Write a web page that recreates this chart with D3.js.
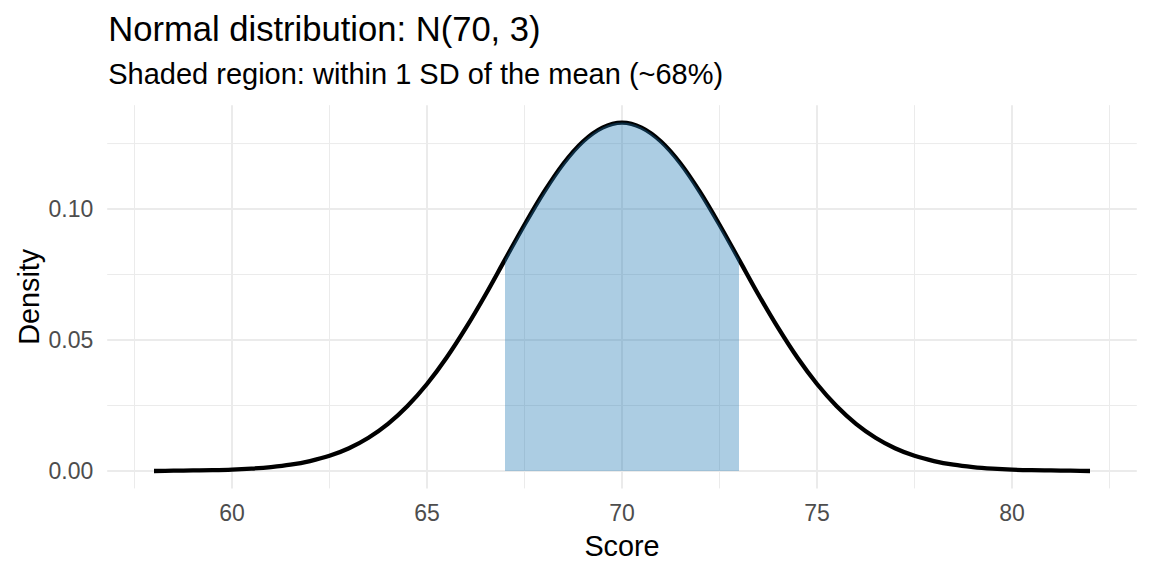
<!DOCTYPE html>
<html>
<head>
<meta charset="utf-8">
<script src="https://cdn.jsdelivr.net/npm/d3@7"></script>
<style>
  body { margin: 0; background: #fff; }
  text { font-family: "Liberation Sans", Arial, sans-serif; }
</style>
</head>
<body>
<div id="chart"></div>
<script>
// values
var scores = [58, 58.5, 59, 59.5, 60, 60.5, 61, 61.5, 62, 62.5, 63, 63.5, 64, 64.5,
  65, 65.5, 66, 66.5, 67, 67.5, 68, 68.5, 69, 69.5, 70, 70.5, 71, 71.5, 72, 72.5,
  73, 73.5, 74, 74.5, 75, 75.5, 76, 76.5, 77, 77.5, 78, 78.5, 79, 79.5, 80, 80.5,
  81, 81.5, 82];
var densities = [0.0000, 0.0001, 0.0002, 0.0003, 0.0005, 0.0009, 0.0015, 0.0024,
  0.0038, 0.0058, 0.0087, 0.0127, 0.0180, 0.0248, 0.0332, 0.0432, 0.0547, 0.0673,
  0.0807, 0.0940, 0.1065, 0.1174, 0.1258, 0.1311, 0.1330, 0.1311, 0.1258, 0.1174,
  0.1065, 0.0940, 0.0807, 0.0673, 0.0547, 0.0432, 0.0332, 0.0248, 0.0180, 0.0127,
  0.0087, 0.0058, 0.0038, 0.0024, 0.0015, 0.0009, 0.0005, 0.0003, 0.0002, 0.0001,
  0.0000];
var shadeRange = [67, 73];
var xTicks = [60, 65, 70, 75, 80];
var xMinor = [57.5, 62.5, 67.5, 72.5, 77.5, 82.5];
var yTicks = [0, 0.05, 0.10];
var yMinor = [0.025, 0.075, 0.125];
var titleText = "Normal distribution: N(70, 3)";
var subtitleText = "Shaded region: within 1 SD of the mean (~68%)";

var width = 1152, height = 576;
var margin = {top: 105.2, right: 15.2, bottom: 87.6, left: 107.2};
var pw = width - margin.left - margin.right,
  ph = height - margin.top - margin.bottom;

var data = scores.map(function (s, i) {
  return {x: s, y: densities[i]};
});

var xpad = (d3.max(scores) - d3.min(scores)) * 0.05;
var ypad = d3.max(densities) * 0.05;

var x = d3.scaleLinear()
  .domain([d3.min(scores) - xpad, d3.max(scores) + xpad])
  .range([0, pw]);
var y = d3.scaleLinear()
  .domain([0 - ypad, d3.max(densities) + ypad])
  .range([ph, 0]);

var svg = d3.select('#chart')
  .append('svg')
  .attr('width', width)
  .attr('height', height);

var g = svg.append('g')
  .attr('transform', 'translate(' + margin.left + ',' + margin.top + ')');

// grid
g.selectAll('.xminor').data(xMinor).enter().append('line')
  .attr('x1', function (d) { return x(d); }).attr('x2', function (d) { return x(d); })
  .attr('y1', 0).attr('y2', ph)
  .attr('stroke', '#ebebeb').attr('stroke-width', 1);
g.selectAll('.yminor').data(yMinor).enter().append('line')
  .attr('y1', function (d) { return y(d); }).attr('y2', function (d) { return y(d); })
  .attr('x1', 0).attr('x2', pw)
  .attr('stroke', '#ebebeb').attr('stroke-width', 1);
g.selectAll('.xmajor').data(xTicks).enter().append('line')
  .attr('x1', function (d) { return x(d); }).attr('x2', function (d) { return x(d); })
  .attr('y1', 0).attr('y2', ph)
  .attr('stroke', '#ebebeb').attr('stroke-width', 2);
g.selectAll('.ymajor').data(yTicks).enter().append('line')
  .attr('y1', function (d) { return y(d); }).attr('y2', function (d) { return y(d); })
  .attr('x1', 0).attr('x2', pw)
  .attr('stroke', '#ebebeb').attr('stroke-width', 2);

// density curve
var line = d3.line()
  .x(function (d) { return x(d.x); })
  .y(function (d) { return y(d.y); })
  .curve(d3.curveMonotoneX);

g.append('path')
  .datum(data)
  .attr('d', line)
  .attr('fill', 'none')
  .attr('stroke', '#000')
  .attr('stroke-width', 4.3)
  .attr('stroke-linejoin', 'round');

// shaded region, drawn on top like the reference
var area = d3.area()
  .x(function (d) { return x(d.x); })
  .y0(y(0))
  .y1(function (d) { return y(d.y); })
  .curve(d3.curveMonotoneX);

g.append('path')
  .datum(data.filter(function (d) {
    return d.x >= shadeRange[0] && d.x <= shadeRange[1];
  }))
  .attr('d', area)
  .attr('fill', '#1f77b4')
  .attr('fill-opacity', 0.37);

// tick labels
g.selectAll('.xlab').data(xTicks).enter().append('text')
  .attr('x', function (d) { return x(d); })
  .attr('y', 521.5 - margin.top)
  .attr('text-anchor', 'middle')
  .attr('font-size', 23)
  .attr('fill', '#4d4d4d')
  .text(function (d) { return d; });

g.selectAll('.ylab').data(yTicks).enter().append('text')
  .attr('x', 93.3 - margin.left)
  .attr('y', function (d) { return y(d); })
  .attr('dy', '0.36em')
  .attr('text-anchor', 'end')
  .attr('font-size', 23)
  .attr('fill', '#4d4d4d')
  .text(function (d) { return d3.format('.2f')(d); });

// axis titles
svg.append('text')
  .attr('x', margin.left + pw / 2)
  .attr('y', 556)
  .attr('text-anchor', 'middle')
  .attr('font-size', 28.8)
  .attr('fill', '#000')
  .text('Score');

svg.append('text')
  .attr('transform', 'translate(38.5,' + (margin.top + ph / 2) + ') rotate(-90)')
  .attr('text-anchor', 'middle')
  .attr('font-size', 28.8)
  .attr('fill', '#000')
  .text('Density');

// titles
svg.append('text')
  .attr('x', margin.left + 1)
  .attr('y', 40.5)
  .attr('font-size', 34.6)
  .attr('fill', '#000')
  .text(titleText);

svg.append('text')
  .attr('x', margin.left + 1)
  .attr('y', 83.5)
  .attr('font-size', 29)
  .attr('fill', '#000')
  .text(subtitleText);
</script>
</body>
</html>
